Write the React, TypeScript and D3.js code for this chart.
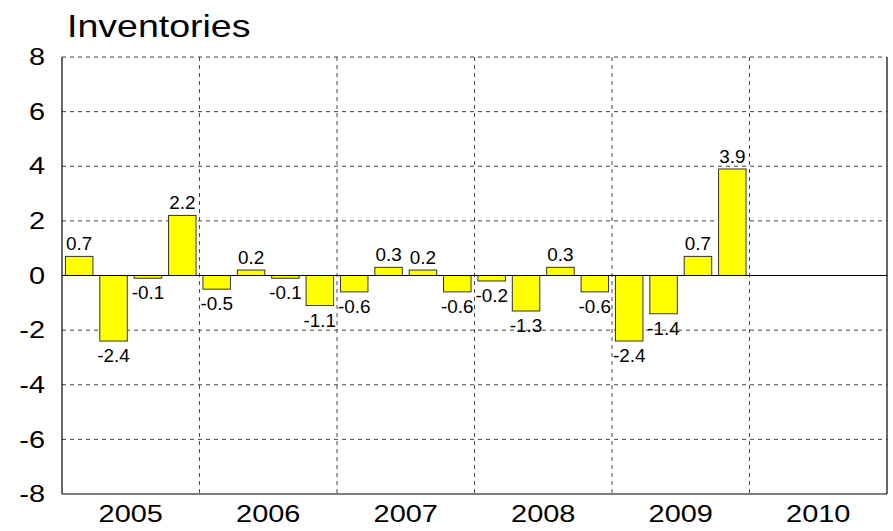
import { useEffect } from "react";
import * as d3 from "d3";

const years = ["2005", "2006", "2007", "2008", "2009", "2010"];
const quarters = ["Q1", "Q2", "Q3", "Q4"];
const values = [
  0.7, -2.4, -0.1, 2.2,
  -0.5, 0.2, -0.1, -1.1,
  -0.6, 0.3, 0.2, -0.6,
  -0.2, -1.3, 0.3, -0.6,
  -2.4, -1.4, 0.7, 3.9,
];
const yTicks = [-8, -6, -4, -2, 0, 2, 4, 6, 8];
const title = "Inventories";

const W = 893;
const H = 531;
const margin = { top: 57, right: 6, bottom: 37, left: 62 };
const font = "'Liberation Sans', Arial, sans-serif";
// the original's axis text is drawn a little wider than normal
const stretch = 1.23;

export default function App() {
  useEffect(() => {
    document.body.style.margin = "0";
  }, []);

  const slots = years.flatMap((y) => quarters.map((q) => `${y}-${q}`));
  const x = d3.scaleBand<string>().domain(slots).range([margin.left, W - margin.right]).paddingInner(0.2).paddingOuter(0.1);
  const xYear = d3.scaleBand<string>().domain(years).range([margin.left, W - margin.right]);
  const y = d3.scaleLinear().domain([-8, 8]).range([H - margin.bottom, margin.top]);

  const x0 = margin.left;
  const x1 = W - margin.right;
  const yTop = y(8);
  const yBot = y(-8);

  return (
    <svg width={W} height={H} style={{ display: "block", fontFamily: font }}>
      <rect width={W} height={H} fill="#fff" />
      <text transform={`translate(67,37) scale(${stretch},1)`} fontSize={30.5} fill="#000">{title}</text>

      {/* grid */}
      {yTicks.filter((t) => t !== -8 && t !== 0).map((t) => (
        <line key={"h" + t} x1={x0} x2={x1} y1={y(t)} y2={y(t)} stroke="#444" strokeDasharray="4,4" strokeWidth={1} />
      ))}
      {years.slice(1).map((yr) => (
        <line key={"v" + yr} x1={xYear(yr)!} x2={xYear(yr)!} y1={yTop} y2={yBot} stroke="#444" strokeDasharray="4,4" strokeWidth={1} />
      ))}

      {/* bars */}
      {values.map((v, i) => {
        const top = y(Math.max(0, v));
        const bot = y(Math.min(0, v));
        return (
          <rect key={i} x={x(slots[i])!} y={top} width={x.bandwidth()} height={Math.max(bot - top, 1)}
            fill="#ffff00" stroke="#333" strokeWidth={1} />
        );
      })}

      {/* frame + zero */}
      <line x1={x0} x2={x1} y1={y(0)} y2={y(0)} stroke="#000" strokeWidth={1.2} />
      <line x1={x0} x2={x0} y1={yTop} y2={yBot} stroke="#000" strokeWidth={1.2} />
      <line x1={x1} x2={x1} y1={yTop} y2={yBot} stroke="#000" strokeWidth={1.2} />
      <line x1={x0} x2={x1} y1={yBot} y2={yBot} stroke="#000" strokeWidth={1.2} />

      {/* value labels */}
      {values.map((v, i) => {
        const cx = x(slots[i])! + x.bandwidth() / 2;
        const ly = v >= 0 ? y(v) - 6 : y(v) + 21;
        return (
          <text key={"l" + i} transform={`translate(${cx},${ly}) scale(1.05,1)`} fontSize={18} textAnchor="middle" fill="#000">
            {v.toFixed(1)}
          </text>
        );
      })}

      {/* y axis labels */}
      {yTicks.map((t) => (
        <text key={"yt" + t} transform={`translate(45,${y(t)}) scale(${stretch},1)`} dy="0.35em" fontSize={23.5} textAnchor="end" fill="#000">{t}</text>
      ))}

      {/* x axis labels */}
      {years.map((yr) => (
        <text key={"xt" + yr} transform={`translate(${xYear(yr)! + xYear.bandwidth() / 2},522) scale(${stretch},1)`} fontSize={23.5} textAnchor="middle" fill="#000">{yr}</text>
      ))}
    </svg>
  );
}
